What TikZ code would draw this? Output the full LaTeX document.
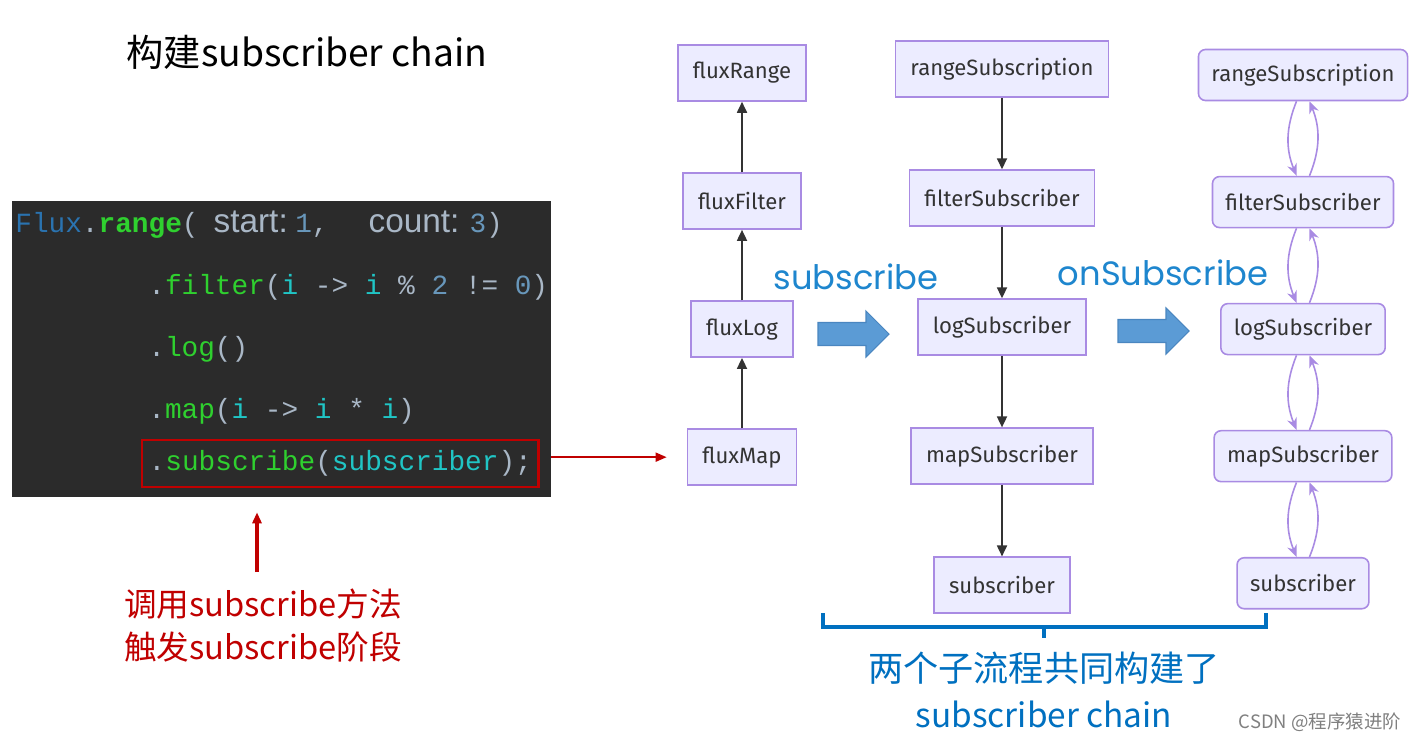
\documentclass[tikz,border=0pt]{standalone}
\usepackage{fontspec}
\setmainfont{Fira Sans}
\newfontfamily\cjk{Noto Sans CJK SC}
\newfontfamily\codefont{Liberation Mono}
\newfontfamily\hintfont{Liberation Sans}
\newfontfamily\stagefont{Poppins}
\usetikzlibrary{positioning,arrows.meta}

\definecolor{boxfill}{HTML}{ECECFF}
\definecolor{boxline}{HTML}{A98BE3}
\definecolor{edge}{HTML}{333333}
\definecolor{codebg}{HTML}{2B2B2B}
\definecolor{codegray}{HTML}{A9B7C6}
\definecolor{codegreen}{HTML}{2FD02F}
\definecolor{codecyan}{HTML}{20C5C5}
\definecolor{codenum}{HTML}{6897BB}
\definecolor{fluxblue}{HTML}{2A73B0}
\definecolor{alertred}{HTML}{C00000}
\definecolor{stageblue}{HTML}{1E86CE}
\definecolor{noteblue}{HTML}{0070C0}
\definecolor{arrowfill}{HTML}{5B9BD5}
\definecolor{arrowline}{HTML}{4A86C0}

\newcommand\gr[1]{{\color{codegray}#1}}
\newcommand\gn[1]{{\color{codegreen}#1}}
\newcommand\cy[1]{{\color{codecyan}#1}}
\newcommand\nm[1]{{\color{codenum}#1}}

\begin{document}
\begin{tikzpicture}[x=0.02cm, y=-0.02cm,
flux/.style={rectangle, draw=boxline, fill=boxfill, line width=0.9pt, minimum height=1.12cm, inner xsep=0.3cm, text=edge, font=\fontsize{12.6}{14}\selectfont},
link/.style={flux, rounded corners=4pt, minimum height=1.02cm, inner xsep=0.26cm},
up/.style={-{Triangle[length=0.22cm, width=0.2cm]}, draw=edge, line width=1pt},
twoway/.style={-{Stealth[length=0.24cm, width=0.2cm]}, draw=boxline, line width=0.9pt, bend right=22},
codeline/.style={anchor=base west, inner sep=0pt, font=\codefont\fontsize{15.8}{18}\selectfont},
redline/.style={-{Triangle[length=0.22cm, width=0.18cm]}, draw=alertred, line width=1pt},
stage/.style={text=stageblue, font=\stagefont\fontsize{19.2}{22}\selectfont},
blockarrow/.pic={\draw[arrowline, fill=arrowfill, line width=0.6pt] (0,-11.5) -- (48,-11.5) -- (48,-23) -- (71,0) -- (48,23) -- (48,11.5) -- (0,11.5) -- cycle;}
]
\useasboundingbox[fill=white] (0,0) rectangle (1421,744);

% title
\node[font=\cjk\fontsize{21.2}{24}\selectfont](title) at (307,52){构建subscriber chain};

% code
\node[rectangle, fill=codebg, minimum width=10.78cm, minimum height=5.92cm](code) at (281.5,349){};
\node[codeline](line1) at (15,232){{\color{fluxblue}Flux}\gr{.}\gn{\bfseries range}\gr{(}\hspace{0.3cm}{\hintfont\fontsize{19}{20}\selectfont\gr{start:}}\hspace{0.15cm}\nm{1}\gr{,}\hspace{0.8cm}{\hintfont\fontsize{19}{20}\selectfont\gr{count:}}\hspace{0.2cm}\nm{3}\gr{)}};
\node[codeline](line2) at (148,294){\gr{.}\gn{filter}\gr{(}\cy{i}\gr{~->~}\cy{i}\gr{~\%~}\nm{2}\gr{~!=~}\nm{0}\gr{)}};
\node[codeline](line3) at (148,356){\gr{.}\gn{log}\gr{()}};
\node[codeline](line4) at (148,418){\gr{.}\gn{map}\gr{(}\cy{i}\gr{~->~}\cy{i}\gr{~*~}\cy{i}\gr{)}};
\node[codeline, anchor=west, draw=alertred, line width=1.4pt, inner xsep=0.13cm, minimum height=0.94cm](line5) at (141,463.5){\gr{.}\gn{subscribe}\gr{(}\cy{subscriber}\gr{);}};

\node[text=alertred, align=center, font=\cjk\fontsize{18.6}{24.5}\selectfont](hint) at (263,626){调用subscribe方法\\触发subscribe阶段};
\draw[redline, line width=2pt, shorten <=0.22cm, shorten >=0.3cm] ([xshift=-0.12cm]hint.north) -- ([xshift=-0.12cm]hint.north |- code.south);

% publishers
\node[flux](fluxRange) at (742,73){fluxRange};
\node[flux](fluxFilter)[below=1.41cm of fluxRange]{fluxFilter};
\node[flux](fluxLog)[below=1.41cm of fluxFilter]{fluxLog};
\node[flux](fluxMap)[below=1.41cm of fluxLog]{fluxMap};

\draw[up] (fluxFilter) -- (fluxRange);
\draw[up] (fluxLog) -- (fluxFilter);
\draw[up] (fluxMap) -- (fluxLog);

\draw[redline, shorten >=0.4cm] (code.east |- fluxMap) -- (fluxMap.west);

% subscribers
\node[flux](rangeSub) at (1002,69){rangeSubscription};
\node[flux](filterSub)[below=1.43cm of rangeSub]{filterSubscriber};
\node[flux](logSub)[below=1.43cm of filterSub]{logSubscriber};
\node[flux](mapSub)[below=1.43cm of logSub]{mapSubscriber};
\node[flux](sub)[below=1.43cm of mapSub]{subscriber};

\draw[up] (rangeSub) -- (filterSub);
\draw[up] (filterSub) -- (logSub);
\draw[up] (logSub) -- (mapSub);
\draw[up] (mapSub) -- (sub);

% linked chain
\node[link](rangeLink) at (1303,75){rangeSubscription};
\node[link](filterLink)[below=1.49cm of rangeLink]{filterSubscriber};
\node[link](logLink)[below=1.49cm of filterLink]{logSubscriber};
\node[link](mapLink)[below=1.49cm of logLink]{mapSubscriber};
\node[link](subLink)[below=1.49cm of mapLink]{subscriber};

\foreach \a/\b in {rangeLink/filterLink, filterLink/logLink, logLink/mapLink, mapLink/subLink}{
  \draw[twoway] ([xshift=-0.13cm]\a.south) to ([xshift=-0.13cm]\b.north);
  \draw[twoway] ([xshift=0.13cm]\b.north) to ([xshift=0.13cm]\a.south);
}

% stages
\node[stage](subscribeLabel) at (856,277){subscribe};
\node[stage](onSubscribeLabel) at (1163,273){onSubscribe};
\pic at (818,334){blockarrow};
\pic at (1118,331){blockarrow};

% brace
\coordinate (braceL) at (823,613);
\coordinate (braceR) at (1266,613);
\coordinate (braceM) at (1044,627);
\draw[noteblue, line width=2.2pt] (braceL) |- (braceM) -| (braceR);
\draw[noteblue, line width=2.2pt] (braceM) -- ++(0,11);

\node[text=noteblue, font=\cjk\fontsize{20}{24}\selectfont](summary) at (1044,668){两个子流程共同构建了};
\node[text=noteblue, font=\cjk\fontsize{19}{24}\selectfont](summaryChain) at (1044,714){subscriber chain};

\node[text=gray, font=\cjk\fontsize{10.5}{12}\selectfont](credit) at (1320,722){CSDN @程序猿进阶};
\end{tikzpicture}
\end{document}
